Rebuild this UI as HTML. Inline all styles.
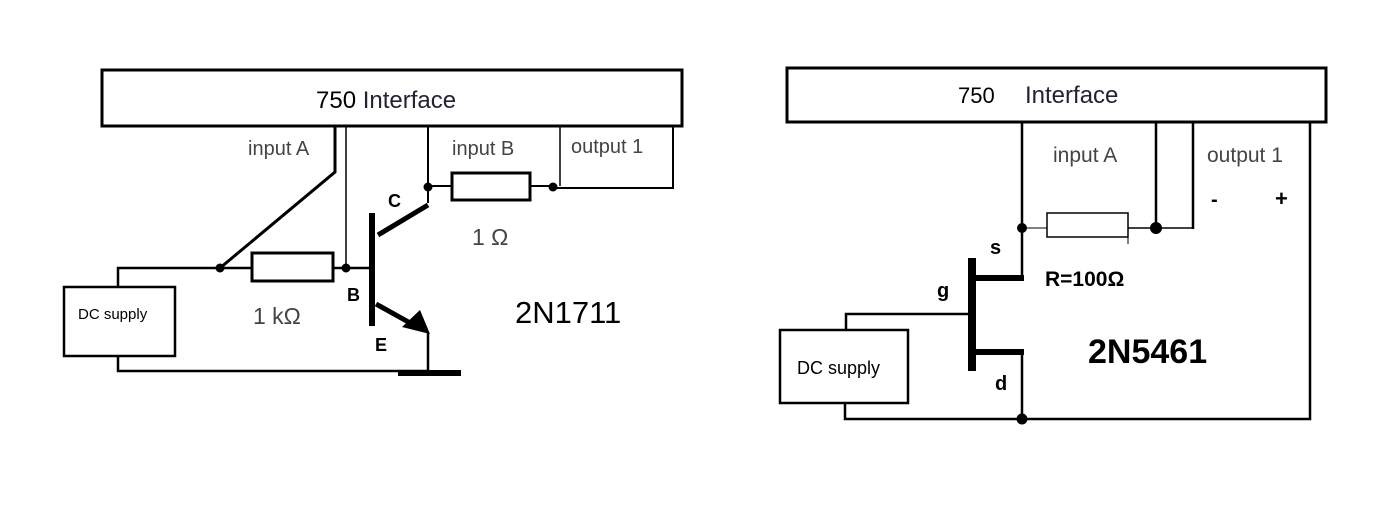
<!DOCTYPE html>
<html><head><meta charset="utf-8"><style>
html,body{margin:0;padding:0;background:#fff;}
svg{display:block;}
text{font-family:"Liberation Sans",sans-serif;}
</style></head><body>
<svg width="1400" height="523" viewBox="0 0 1400 523" xmlns="http://www.w3.org/2000/svg">
<g fill="none" stroke="#000">
<!-- LEFT -->
<rect x="102" y="70" width="580" height="56" stroke-width="3"/>
<polyline points="335,126 335,172 220,268" stroke-width="3"/>
<line x1="346" y1="126" x2="346" y2="268" stroke-width="1.5"/>
<polyline points="428,126 428,203" stroke-width="2"/>
<line x1="428" y1="205" x2="378" y2="235" stroke-width="5"/>
<line x1="560" y1="126" x2="560" y2="186" stroke-width="1.5"/>
<polyline points="553,188 673,188 673,126" stroke-width="2"/>
<line x1="428" y1="186" x2="452" y2="186" stroke-width="2"/>
<rect x="452" y="173" width="78" height="27" stroke-width="3"/>
<line x1="530" y1="186" x2="553" y2="186" stroke-width="2"/>
<polyline points="118,287 118,268 252,268" stroke-width="2.5"/>
<rect x="252" y="253" width="81" height="28" stroke-width="3"/>
<line x1="333" y1="268" x2="372" y2="268" stroke-width="2.5"/>
<line x1="372" y1="213" x2="372" y2="326" stroke-width="6"/>
<line x1="376" y1="304" x2="412" y2="324" stroke-width="5"/>
<polyline points="118,356 118,371 428,371" stroke-width="2.5"/>
<line x1="428" y1="333" x2="428" y2="373" stroke-width="2.5"/>
<line x1="398" y1="373" x2="461" y2="373" stroke-width="6"/>
<rect x="64" y="287" width="111" height="69" stroke-width="2.5"/>
<!-- RIGHT -->
<rect x="787" y="68" width="539" height="54" stroke-width="3"/>
<line x1="1022" y1="122" x2="1022" y2="279" stroke-width="2.5"/>
<line x1="1022" y1="228" x2="1047" y2="228" stroke-width="1"/>
<rect x="1047" y="213" width="81" height="24" stroke-width="1.5"/>
<line x1="1128" y1="228" x2="1193" y2="228" stroke-width="1.5"/>
<line x1="1128" y1="237" x2="1128" y2="244" stroke-width="1"/>
<line x1="1156" y1="122" x2="1156" y2="228" stroke-width="2.5"/>
<line x1="1193" y1="122" x2="1193" y2="229" stroke-width="2.5"/>
<polyline points="1310,122 1310,419 845,419 845,403" stroke-width="2.5"/>
<line x1="1022" y1="352" x2="1022" y2="419" stroke-width="2.5"/>
<line x1="972" y1="258" x2="972" y2="371" stroke-width="8"/>
<line x1="972" y1="278" x2="1024" y2="278" stroke-width="6"/>
<line x1="972" y1="352" x2="1024" y2="352" stroke-width="6"/>
<polyline points="846,330 846,314 972,314" stroke-width="2.5"/>
<rect x="780" y="330" width="128" height="73" stroke-width="2.5"/>
</g>
<g fill="#000">
<circle cx="220" cy="268" r="4.5"/><circle cx="346" cy="268" r="4.5"/>
<circle cx="428" cy="187" r="4.5"/><circle cx="553" cy="187" r="4.5"/>
<polygon points="402,327 420,310 430,334"/>
<circle cx="1022" cy="228" r="5"/><circle cx="1156" cy="228" r="6"/><circle cx="1022" cy="419" r="5.5"/>
</g>
<g fill="#000">
<text x="316" y="108" font-size="24">750 <tspan fill="#223">Interface</tspan></text>
<text x="248" y="155" font-size="20" fill="#444">input A</text>
<text x="452" y="155" font-size="20" fill="#444">input B</text>
<text x="571" y="153" font-size="20" fill="#444">output 1</text>
<text x="388" y="207" font-size="18" font-weight="bold">C</text>
<text x="347" y="301" font-size="18" font-weight="bold">B</text>
<text x="375" y="351" font-size="18" font-weight="bold">E</text>
<text x="253" y="324" font-size="23" fill="#444">1 kΩ</text>
<text x="472" y="245" font-size="23" fill="#444">1 Ω</text>
<text x="515" y="323" font-size="31">2N1711</text>
<text x="78" y="319" font-size="15">DC supply</text>
<text x="958" y="103" font-size="22">750</text>
<text x="1025" y="103" font-size="24" fill="#223">Interface</text>
<text x="1053" y="162" font-size="21" fill="#444">input A</text>
<text x="1207" y="162" font-size="21" fill="#444">output 1</text>
<text x="1211" y="206" font-size="20" font-weight="bold">-</text>
<text x="1275" y="206" font-size="22" font-weight="bold">+</text>
<text x="990" y="254" font-size="20" font-weight="bold">s</text>
<text x="937" y="297" font-size="20" font-weight="bold">g</text>
<text x="995" y="390" font-size="20" font-weight="bold">d</text>
<text x="1045" y="286" font-size="21" font-weight="bold">R=100Ω</text>
<text x="1088" y="363" font-size="34" font-weight="bold">2N5461</text>
<text x="797" y="374" font-size="18">DC supply</text>
</g>
</svg>
</body></html>
